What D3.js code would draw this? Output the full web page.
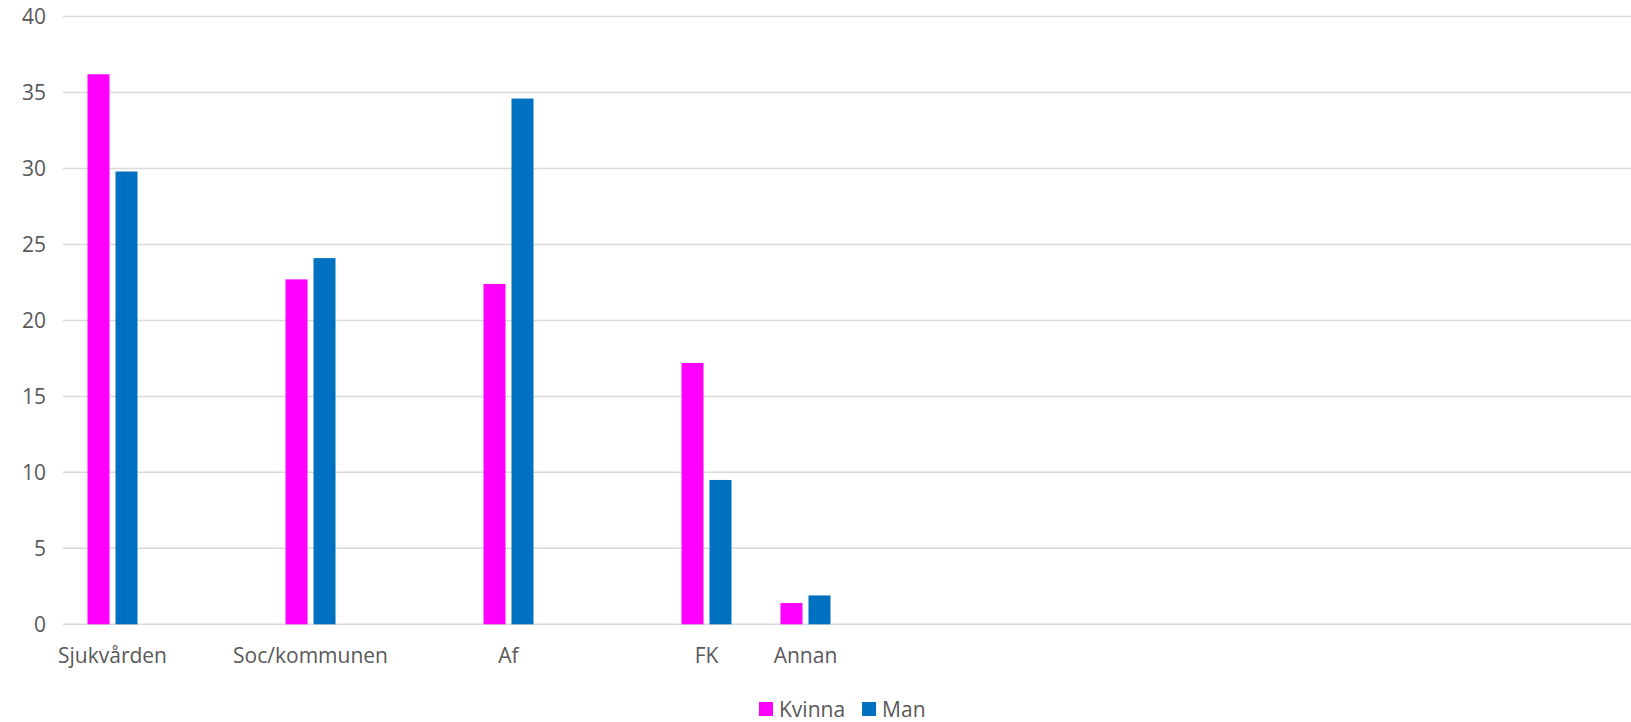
<!DOCTYPE html>
<html>
<head>
<meta charset="utf-8">
<script src="https://cdn.jsdelivr.net/npm/d3@7"></script>
<style>
  html, body { margin: 0; padding: 0; background: #fff; }
  svg { display: block; }
  text { font-family: "Open Sans", "Noto Sans", sans-serif; fill: #595959; }
</style>
</head>
<body>
<svg id="chart" width="1631" height="722"></svg>
<script>
// Category slots (blank slots are empty rows in the source table)
const categories = ["Sjukvården", "", "Soc/kommunen", "", "Af", "", "FK", "Annan",
                    "", "", "", "", "", "", "", ""];
const seriesNames = ["Kvinna", "Man"];
const kvinna = [36.2, null, 22.7, null, 22.4, null, 17.2, 1.4,
                null, null, null, null, null, null, null, null];
const man    = [29.8, null, 24.1, null, 34.6, null, 9.5, 1.9,
                null, null, null, null, null, null, null, null];
const yTicks = [0, 5, 10, 15, 20, 25, 30, 35, 40];
const colors = ["#FF00FF", "#0070C0"];

const W = 1631, H = 722;
const plot = { left: 63, top: 16.5, bottom: 624.3, step: 99 };
const fontSize = 21;

const svg = d3.select("#chart");

const x0 = d3.scaleBand()
  .domain(d3.range(categories.length))
  .range([plot.left, plot.left + plot.step * categories.length])
  .padding(0);

const bw = x0.bandwidth();
const x1 = d3.scaleBand()
  .domain(seriesNames)
  .range([bw * 24.5 / 99, bw * (99 - 24.5) / 99])
  .paddingInner(0.214)
  .paddingOuter(0);

const y = d3.scaleLinear().domain([0, 40]).range([plot.bottom, plot.top]);

// Horizontal gridlines
svg.append("g")
  .selectAll("line")
  .data(yTicks)
  .join("line")
  .attr("x1", plot.left)
  .attr("x2", W)
  .attr("y1", d => y(d))
  .attr("y2", d => y(d))
  .attr("stroke", "#D9D9D9")
  .attr("stroke-width", 1.5);

// Y axis labels
const yAxis = svg.append("g")
  .attr("transform", `translate(${plot.left},0)`)
  .call(d3.axisLeft(y).tickValues(yTicks).tickSize(0).tickPadding(17));
yAxis.select(".domain").remove();
yAxis.selectAll("text")
  .attr("font-size", fontSize)
  .attr("fill", "#595959")
  .style("font-family", "'Open Sans', sans-serif");

// Bars
const rows = categories.map((c, i) => ({ i, values: [kvinna[i], man[i]] }));
const groups = svg.append("g")
  .selectAll("g")
  .data(rows)
  .join("g")
  .attr("transform", d => `translate(${x0(d.i)},0)`);

groups.selectAll("rect")
  .data(d => d.values.map((v, k) => ({ v, k })).filter(e => e.v != null))
  .join("rect")
  .attr("x", e => x1(seriesNames[e.k]))
  .attr("width", x1.bandwidth())
  .attr("y", e => y(e.v))
  .attr("height", e => y(0) - y(e.v))
  .attr("fill", e => colors[e.k]);

// X axis labels
const xAxis = svg.append("g")
  .attr("transform", `translate(0,${plot.bottom})`)
  .call(d3.axisBottom(x0).tickFormat(i => categories[i]).tickSize(0).tickPadding(24));
xAxis.select(".domain").remove();
xAxis.selectAll("text")
  .attr("font-size", fontSize)
  .attr("fill", "#595959")
  .style("font-family", "'Open Sans', sans-serif");

// Legend
const legend = svg.append("g").attr("transform", "translate(759,702)");
let lx = 0;
seriesNames.forEach((name, k) => {
  const item = legend.append("g").attr("transform", `translate(${lx},0)`);
  item.append("rect").attr("width", 14).attr("height", 14).attr("fill", colors[k]);
  const t = item.append("text")
    .attr("x", 20)
    .attr("y", 15)
    .attr("font-size", fontSize)
    .text(name);
  lx += 20 + t.node().getComputedTextLength() + 17;
});
</script>
</body>
</html>
